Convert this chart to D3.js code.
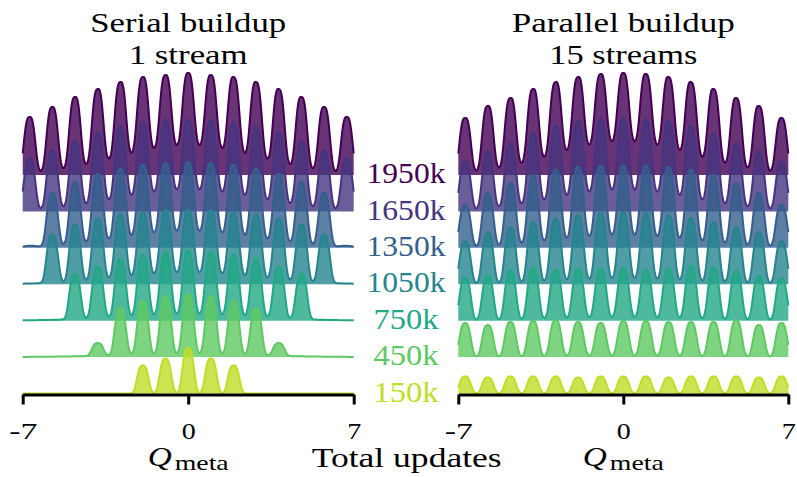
<!DOCTYPE html>
<html><head><meta charset="utf-8">
<script src="https://cdn.jsdelivr.net/npm/d3@7"></script>
<style>body{margin:0;background:#fff} svg{display:block}</style>
</head><body>
<svg id="chart" width="797" height="477"></svg>
<script>
// ---------------- data ----------------
const updates = ["150k","450k","750k","1050k","1350k","1650k","1950k"];
const qTicks = [-7, 0, 7];
const panelTitles = [["Serial buildup","1 stream"],["Parallel buildup","15 streams"]];
// locations of the density peaks on the Q_meta axis
const peakQ = [-6.71,-5.75,-4.79,-3.83,-2.87,-1.92,-0.96,0,0.96,1.92,2.87,3.83,4.79,5.75,6.71];

// peak heights (relative density) for each ridge, serial buildup
const serial150  = [0,0,0,0,0,0.28,0.35,0.46,0.35,0.28,0,0,0,0,0];
const serial450  = [0,0,0,0.14,0.49,0.56,0.61,0.63,0.61,0.56,0.49,0.14,0,0,0];
const serial750  = [0,0,0.47,0.54,0.62,0.66,0.69,0.70,0.69,0.66,0.62,0.54,0.47,0,0];
const serial1050 = [0,0.50,0.60,0.66,0.70,0.72,0.74,0.74,0.74,0.72,0.70,0.66,0.60,0.50,0];
const serial1350 = [0.02,0.55,0.66,0.74,0.79,0.83,0.85,0.86,0.85,0.83,0.79,0.74,0.66,0.55,0.02];
const serial1650 = [0.53,0.61,0.70,0.79,0.85,0.89,0.91,0.92,0.91,0.89,0.85,0.79,0.70,0.61,0.53];
const serial1950 = [0.58,0.68,0.78,0.86,0.93,0.98,1.00,1.02,1.00,0.98,0.93,0.86,0.78,0.68,0.58];
// valley floor level at the centre of each ridge, serial
const serialFloor = [0, 0.03, 0.06, 0.11, 0.16, 0.21, 0.29];

// parallel buildup
const parallel150  = [0.17,0.16,0.17,0.17,0.17,0.16,0.17,0.17,0.17,0.16,0.17,0.17,0.17,0.16,0.17];
const parallel450  = [0.34,0.32,0.35,0.36,0.37,0.35,0.34,0.36,0.36,0.35,0.35,0.35,0.37,0.32,0.34];
const parallel750  = [0.43,0.45,0.50,0.53,0.51,0.52,0.52,0.53,0.51,0.52,0.55,0.53,0.50,0.45,0.42];
const parallel1050 = [0.43,0.52,0.57,0.62,0.66,0.69,0.71,0.72,0.71,0.69,0.66,0.62,0.57,0.52,0.43];
const parallel1350 = [0.43,0.55,0.65,0.73,0.78,0.81,0.82,0.82,0.82,0.81,0.78,0.73,0.65,0.55,0.43];
const parallel1650 = [0.50,0.60,0.68,0.78,0.85,0.90,0.92,0.93,0.92,0.90,0.85,0.78,0.68,0.60,0.50];
const parallel1950 = [0.57,0.69,0.77,0.86,0.93,0.98,1.01,1.02,1.01,0.98,0.93,0.86,0.77,0.69,0.57];
const parallelFloor = [0, 0.01, 0.03, 0.05, 0.12, 0.21, 0.33];

const peakHalfWidth = 0.288; // kernel scale of each peak (Q units)
const peakShape = 3;         // kernel exponent
const floorSd = 2.9;         // width of the valley floor envelope

// ---------------- layout ----------------
const svg = d3.select("#chart");
const FONT = "'Liberation Serif','Times New Roman',serif";
const panels = [
  {range:[22.7,353.7], peaks:[serial150,serial450,serial750,serial1050,serial1350,serial1650,serial1950], floor:serialFloor, titleW:[196,119]},
  {range:[458.3,788.3], peaks:[parallel150,parallel450,parallel750,parallel1050,parallel1350,parallel1650,parallel1950], floor:parallelFloor, titleW:[223,148]}
];
const baseY = d3.scaleLinear().domain([0, updates.length-1]).range([393.5, 175]);
const hScale = d3.scaleLinear().domain([0, 1]).range([0, 100]);
const color = i => d3.interpolateViridis(0.9 - i*0.15);
const grid = d3.range(-7, 7.0001, 0.02);

function density(peaks, floor) {
  const bg = x => floor * Math.exp(-x*x/(2*floorSd*floorSd));
  const amps = peaks.map((p,k) => Math.max(0, p - bg(peakQ[k])));
  return grid.map(x => {
    let v = bg(x);
    for (let k = 0; k < peakQ.length; k++) {
      if (amps[k] > 0) { const d = Math.abs(x - peakQ[k]) / peakHalfWidth; v += amps[k]*Math.exp(-Math.pow(d, peakShape)); }
    }
    return [x, v];
  });
}

panels.forEach((P, pi) => {
  const x = d3.scaleLinear().domain([-7, 7]).range(P.range);
  const g = svg.append("g");
  for (let i = updates.length-1; i >= 0; i--) {
    const b = baseY(i);
    const data = density(P.peaks[i], P.floor[i]);
    const area = d3.area().x(d => x(d[0])).y0(b).y1(d => b - hScale(d[1]));
    const line = d3.line().x(d => x(d[0])).y(d => b - hScale(d[1]));
    g.append("path").attr("d", area(data)).attr("fill", color(i)).attr("fill-opacity", 0.8);
    g.append("path").attr("d", line(data)).attr("fill", "none").attr("stroke", color(i)).attr("stroke-width", 2);
  }
  // axis
  const ax = svg.append("g").attr("transform", "translate(0,394.5)")
    .call(d3.axisBottom(x).tickValues(qTicks).tickFormat(d3.format("d")).tickSize(10).tickSizeOuter(0));
  ax.select(".domain").attr("stroke", "#000").attr("stroke-width", 3);
  ax.selectAll(".tick line").attr("stroke", "#000").attr("stroke-width", 3);
  ax.selectAll(".tick text").attr("fill", "#000").attr("font-family", FONT).attr("font-size", 24)
    .attr("dy", null).attr("y", 44.5)
    .text(d => d < 0 ? "-" + Math.abs(d) : d)
    .attr("textLength", d => d < 0 ? 28 : 14).attr("lengthAdjust", "spacingAndGlyphs");
  const cx = x(0);
  // titles
  panelTitles[pi].forEach((t, li) => {
    svg.append("text").attr("x", cx).attr("y", li === 0 ? 32 : 64).attr("text-anchor", "middle")
      .attr("font-family", FONT).attr("font-size", 28).attr("fill", "#000")
      .attr("textLength", P.titleW[li]).attr("lengthAdjust", "spacingAndGlyphs").text(t);
  });
  // x label Q_meta
  svg.append("text").attr("x", cx - 40.5).attr("y", 466).attr("font-family", FONT)
    .attr("font-style", "italic").attr("font-size", 28).attr("fill", "#000")
    .attr("textLength", 24).attr("lengthAdjust", "spacingAndGlyphs").text("Q");
  svg.append("text").attr("x", cx - 13.5).attr("y", 470).attr("font-family", FONT)
    .attr("font-size", 21).attr("fill", "#000")
    .attr("textLength", 54).attr("lengthAdjust", "spacingAndGlyphs").text("meta");
});

// ridge labels
updates.forEach((u, i) => {
  svg.append("text").attr("x", 406).attr("y", baseY(i) - 1.5 + 9.6).attr("text-anchor", "middle")
    .attr("font-family", FONT).attr("font-size", 28.5).attr("fill", color(i))
    .attr("textLength", u.length === 5 ? 79 : 65).attr("lengthAdjust", "spacingAndGlyphs").text(u);
});
svg.append("text").attr("x", 406.7).attr("y", 467).attr("text-anchor", "middle")
  .attr("font-family", FONT).attr("font-size", 27).attr("fill", "#000")
  .attr("textLength", 190).attr("lengthAdjust", "spacingAndGlyphs").text("Total updates");
</script>
</body></html>
